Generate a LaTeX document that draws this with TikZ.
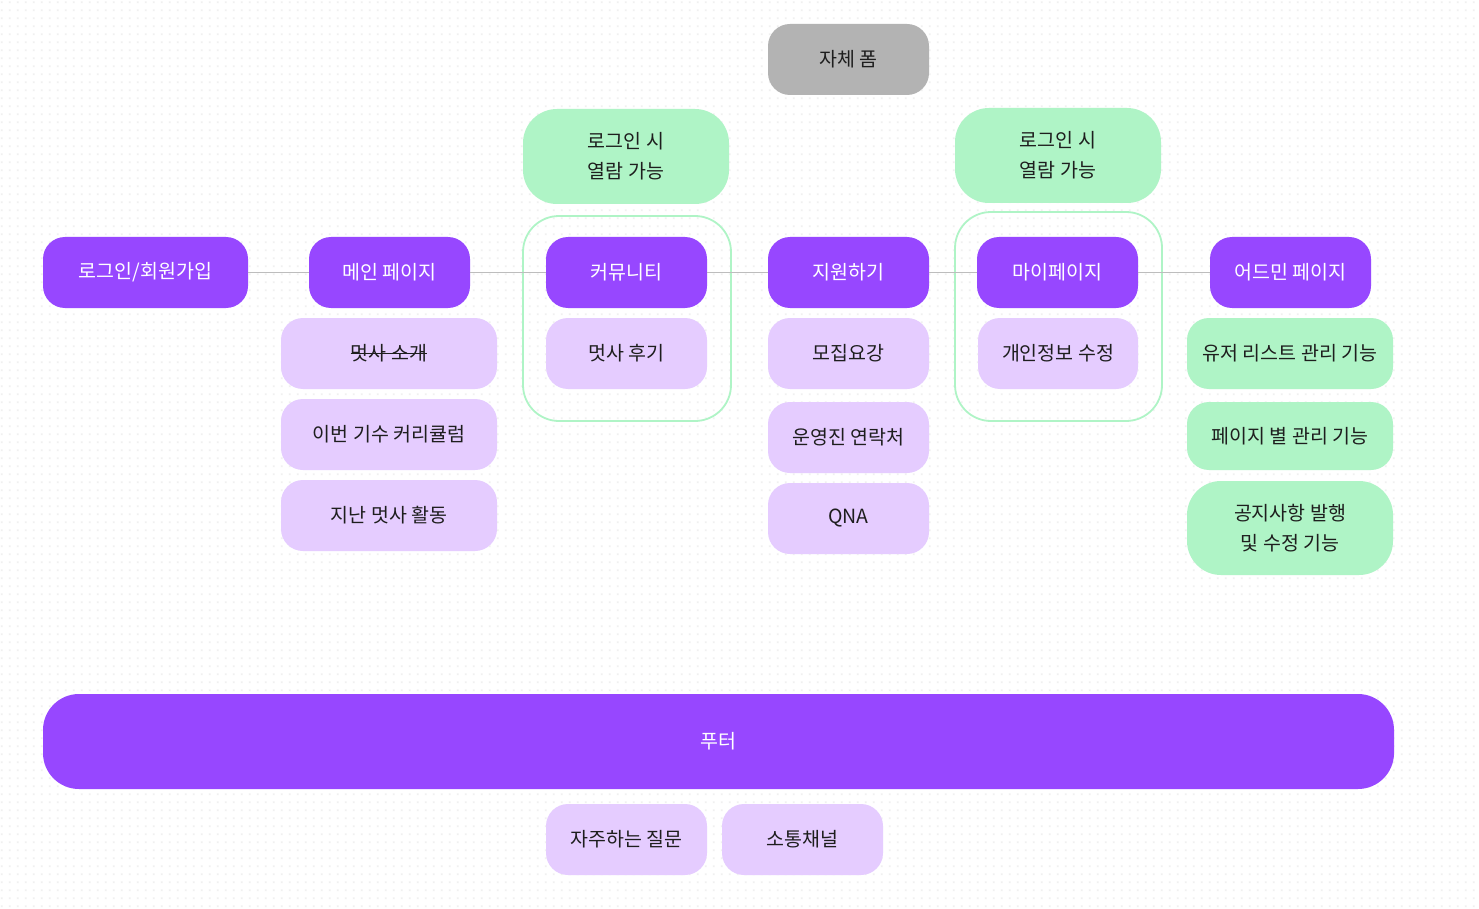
\documentclass[tikz,border=0pt]{standalone}
\usepackage{fontspec}
\newfontfamily\kr{Noto Sans CJK KR}
\usetikzlibrary{patterns.meta}
\definecolor{cpurple}{HTML}{9747FF}
\definecolor{clight}{HTML}{E5CCFF}
\definecolor{cgreen}{HTML}{AFF4C6}
\definecolor{cgray}{HTML}{B3B3B3}
\definecolor{cline}{HTML}{BDBDBD}
\definecolor{ctext}{HTML}{1E1E1E}
\definecolor{cdot}{HTML}{F0F0F0}
\tikzdeclarepattern{name=gdots, type=uncolored, bounding box={(0pt,0pt) and (8pt,8pt)}, tile size={(8pt,8pt)}, code={\fill (2pt,2pt) rectangle (4pt,4pt);}}
\tikzset{
  kfont/.style={font=\kr\fontsize{19.5}{30}\selectfont},
  box/.style={rounded corners=22, minimum width=161, minimum height=71, inner sep=0, align=center, kfont},
  mainbox/.style={box, fill=cpurple, text=white},
  subbox/.style={box, fill=clight, text=ctext},
  greenbox/.style={box, fill=cgreen, text=ctext},
  graybox/.style={box, fill=cgray, text=ctext},
  outlinebox/.style={draw=cgreen, line width=1.8pt, rounded corners=36, inner sep=0},
  conn/.style={draw=cline, line width=1.5pt},
  strike/.style={draw=ctext, line width=1.2pt},
}
\begin{document}
\begin{tikzpicture}[x=1pt,y=-1pt]
\useasboundingbox (0,0) rectangle (1479,909);
\fill[white] (0,0) rectangle (1479,909);
\fill[pattern=gdots, pattern color=cdot] (0,0) rectangle (1479,909);

% outline boxes
\node[outlinebox, minimum width=208, minimum height=205] (out1) at (627,318.5) {};
\node[outlinebox, minimum width=207, minimum height=209] (out2) at (1058.5,316.5) {};

% top
\node[graybox] (form) at (848.5,59.5) {자체 폼};
\node[greenbox, minimum width=206, minimum height=95, rounded corners=34] (g1) at (626,156.5) {로그인 시\\열람 가능};
\node[greenbox, minimum width=206, minimum height=95, rounded corners=34] (g2) at (1058,155.5) {로그인 시\\열람 가능};

% main row
\node[mainbox, minimum width=205] (login) at (145.5,272.5) {로그인/회원가입};
\node[mainbox] (mainp) at (389.5,272.5) {메인 페이지};
\node[mainbox] (comm) at (626.5,272.5) {커뮤니티};
\node[mainbox] (apply) at (848.5,272.5) {지원하기};
\node[mainbox] (mypage) at (1057.5,272.5) {마이페이지};
\node[mainbox] (admin) at (1290.5,272.5) {어드민 페이지};

\path[conn] (login) -- (mainp);
\path[conn] (mainp) -- (comm);
\path[conn] (comm) -- (apply);
\path[conn] (apply) -- (mypage);
\path[conn] (mypage) -- (admin);

% sub items
\node[subbox, minimum width=216] (s1) at (389,353.5) {};
\node[kfont, text=ctext, inner sep=0] (s1t) at (s1.center) {멋사 소개};
\path[strike] (s1t.west) -- (s1t.east);
\node[subbox, minimum width=216] (s2) at (389,434.5) {이번 기수 커리큘럼};
\node[subbox, minimum width=216] (s3) at (389,515.5) {지난 멋사 활동};
\node[subbox] (c1) at (626.5,353.5) {멋사 후기};
\node[subbox] (a1) at (848.5,353.5) {모집요강};
\node[subbox] (a2) at (848.5,437.5) {운영진 연락처};
\node[subbox] (a3) at (848.5,518.5) {QNA};
\node[subbox, minimum width=160] (m1) at (1058,353.5) {개인정보 수정};
\node[greenbox, minimum width=206] (d1) at (1290,353.5) {유저 리스트 관리 기능};
\node[greenbox, minimum width=206, minimum height=68] (d2) at (1290,436) {페이지 별 관리 기능};
\node[greenbox, minimum width=206, minimum height=94, rounded corners=34] (d3) at (1290,528) {공지사항 발행\\및 수정 기능};

% footer
\node[mainbox, minimum width=1351, minimum height=95, rounded corners=36] (footer) at (718.5,741.5) {푸터};
\node[subbox] (f1) at (626.5,839.5) {자주하는 질문};
\node[subbox] (f2) at (802.5,839.5) {소통채널};
\end{tikzpicture}
\end{document}
